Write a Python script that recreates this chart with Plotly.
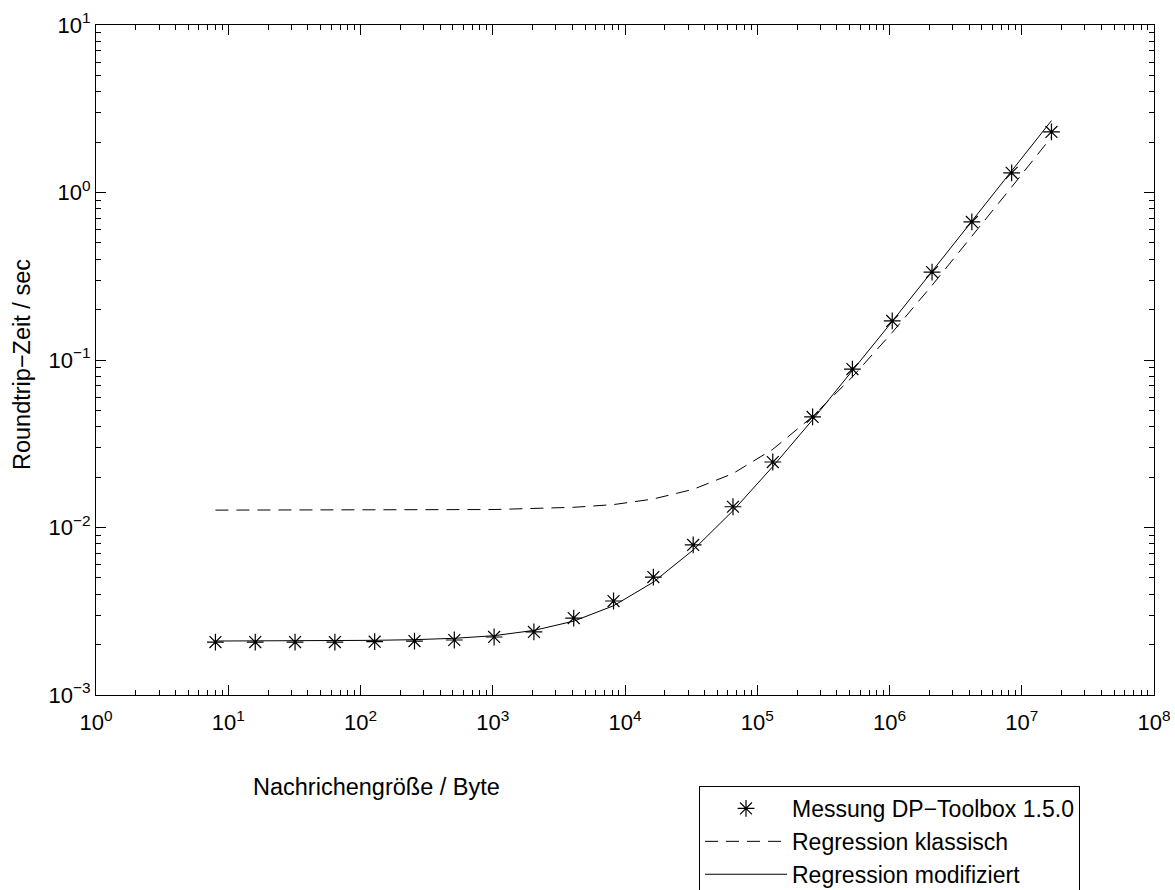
import plotly.graph_objects as go

# Message sizes (bytes)
msg_size = [8, 16, 32, 64, 128, 256, 512, 1024, 2048, 4096, 8192, 16384, 32768,
            65536, 131072, 262144, 524288, 1048576, 2097152, 4194304, 8388608, 16777216]

# Measured roundtrip times (s)
measured = [0.00207, 0.00207, 0.00207, 0.00207, 0.00208, 0.00210, 0.00213, 0.00222,
            0.00238, 0.00288, 0.00364, 0.00506, 0.00787, 0.0133, 0.0246, 0.0457,
            0.0883, 0.171, 0.335, 0.667, 1.31, 2.30]

# Classic regression (dashed)
reg_classic = [0.0127, 0.0127, 0.0127, 0.0127, 0.0127, 0.0127, 0.0128, 0.0128,
               0.0130, 0.0132, 0.0137, 0.0148, 0.0169, 0.0210, 0.0293, 0.0460,
               0.0793, 0.146, 0.279, 0.545, 1.078, 2.143]

# Modified regression (solid)
reg_modified = [0.00210, 0.00210, 0.00210, 0.00211, 0.00212, 0.00214, 0.00218, 0.00226,
                0.00243, 0.00276, 0.00341, 0.00472, 0.00734, 0.0126, 0.0231, 0.0440,
                0.0860, 0.170, 0.338, 0.673, 1.344, 2.686]

x_tickvals = [1, 10, 100, 1e3, 1e4, 1e5, 1e6, 1e7, 1e8]
x_ticktext = ["10<sup>0</sup>", "10<sup>1</sup>", "10<sup>2</sup>", "10<sup>3</sup>",
              "10<sup>4</sup>", "10<sup>5</sup>", "10<sup>6</sup>", "10<sup>7</sup>",
              "10<sup>8</sup>"]
y_tickvals = [1e-3, 1e-2, 1e-1, 1, 10]
y_ticktext = ["10<sup>\u22123</sup>", "10<sup>\u22122</sup>", "10<sup>\u22121</sup>",
              "10<sup>0</sup>", "10<sup>1</sup>"]

FONT = "Liberation Sans, Arial, Helvetica, sans-serif"

W, H = 1175, 890
PL, PR, PT, PB = 96, 1154, 25, 695   # plot area in figure px
PW, PH = PR - PL, PB - PT


def px_x(sx):
    return (sx - PL) / PW


def px_y(sy):
    return (PB - sy) / PH


fig = go.Figure()
fig.add_trace(go.Scatter(
    x=msg_size, y=measured, mode="markers", name="Messung DP\u2212Toolbox 1.5.0",
    marker=dict(symbol="asterisk-open", size=14, color="black",
                line=dict(color="black", width=1.2)),
))
fig.add_trace(go.Scatter(
    x=msg_size, y=reg_classic, mode="lines", name="Regression klassisch",
    line=dict(color="black", width=1, dash="13px,8px"),
))
fig.add_trace(go.Scatter(
    x=msg_size, y=reg_modified, mode="lines", name="Regression modifiziert",
    line=dict(color="black", width=1),
))

axis_common = dict(
    type="log", showline=True, linecolor="black", linewidth=1, mirror="ticks",
    ticks="inside", ticklen=10, tickwidth=1, tickcolor="black",
    showgrid=False, zeroline=False,
    tickfont=dict(family=FONT, size=22, color="black"),
    minor=dict(ticks="inside", ticklen=5, tickwidth=1, tickcolor="black",
               dtick="D1", showgrid=False),
)

fig.update_xaxes(range=[0, 8], tickvals=x_tickvals, ticktext=x_ticktext,
                 ticklabelstandoff=8, **axis_common)
fig.update_yaxes(range=[-3, 1], tickvals=y_tickvals, ticktext=y_ticktext,
                 ticklabelstandoff=0, **axis_common)

fig.update_layout(
    width=W, height=H,
    margin=dict(l=PL, r=W - PR, t=PT, b=H - PB, autoexpand=False),
    plot_bgcolor="white", paper_bgcolor="white",
    font=dict(family=FONT, size=23, color="black"),
    showlegend=True,
    legend=dict(x=px_x(699), y=px_y(786), xanchor="left", yanchor="top",
                bordercolor="black", borderwidth=1, bgcolor="white",
                itemwidth=82, font=dict(family=FONT, size=23, color="black")),
    annotations=[
        dict(text="Nachrichengröße / Byte", xref="paper", yref="paper",
             x=px_x(376), y=px_y(787), xanchor="center",
             yanchor="middle", showarrow=False, font=dict(family=FONT, size=23.5)),
        dict(text="Roundtrip\u2212Zeit / sec", xref="paper", yref="paper",
             x=px_x(22), y=px_y(365), xanchor="center",
             yanchor="middle", textangle=-90, showarrow=False,
             font=dict(family=FONT, size=23.5)),
    ],
)

fig.write_html(
    "out.html",
    config={"displayModeBar": False},
    post_script="document.body.style.margin='0';document.body.style.overflow='hidden';",
)
